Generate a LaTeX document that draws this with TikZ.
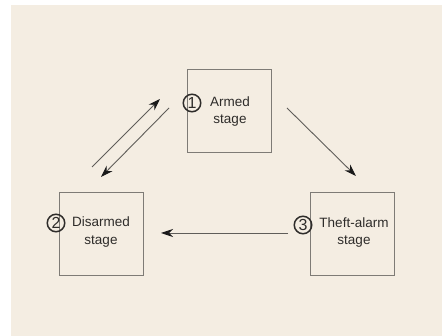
\documentclass[tikz,border=0pt]{standalone}
\usepackage{fontspec}
\setmainfont{Liberation Sans}
\usetikzlibrary{arrows.meta}
\definecolor{bgbeige}{HTML}{F4EDE2}
\definecolor{boxline}{HTML}{7E7B76}
\definecolor{arrowline}{HTML}{5F5D59}
\definecolor{txt}{HTML}{2E2C2A}
\tikzset{
  stagebox/.style={draw=boxline, line width=1.2pt, minimum width=84pt, minimum height=83pt, inner sep=0pt, anchor=north west},
  stagelabel/.style={text=txt, font=\fontsize{13.5}{17.5}\selectfont, align=center, inner sep=0pt},
  numcircle/.style={circle, draw=txt, line width=1.5pt, minimum size=17.5pt, inner sep=0pt, text=txt, font=\fontsize{16}{16}\selectfont},
  flow/.style={draw=arrowline, line width=0.9pt, -{Stealth[length=12pt,width=8pt,color=black!90]}}
}
\begin{document}
\begin{tikzpicture}[x=1pt,y=-1pt]
\useasboundingbox (0,0) rectangle (442,336);
\fill[white] (0,0) rectangle (442,336);
\fill[bgbeige] (11,5) rectangle (442,336);
% boxes
\node[stagebox] (arm) at (187,69) {};
\node[stagebox] (dis) at (59,192) {};
\node[stagebox] (thf) at (310,192) {};
% labels
\node[stagelabel] (armt) at (230,111.5) {Armed\\stage};
\node[stagelabel] (dist) at (101,232) {Disarmed\\stage};
\node[stagelabel] (thft) at (354,232.5) {Theft-alarm\\stage};
\node[numcircle] (n1) at (192,103) {1};
\node[numcircle] (n2) at (56,223) {2};
\node[numcircle] (n3) at (303,225) {3};
% connector endpoints
\coordinate (a1s) at (92,167);
\coordinate (a1e) at (160,99);
\coordinate (a2s) at (169,108);
\coordinate (a2e) at (101,177);
\coordinate (a3s) at (287,108);
\coordinate (a3e) at (356,176);
\coordinate (a4s) at (288,233);
\coordinate (a4e) at (161,233);
\draw[flow] (a1s) -- (a1e);
\draw[flow] (a2s) -- (a2e);
\draw[flow] (a3s) -- (a3e);
\draw[flow] (a4s) -- (a4e);
\end{tikzpicture}
\end{document}
